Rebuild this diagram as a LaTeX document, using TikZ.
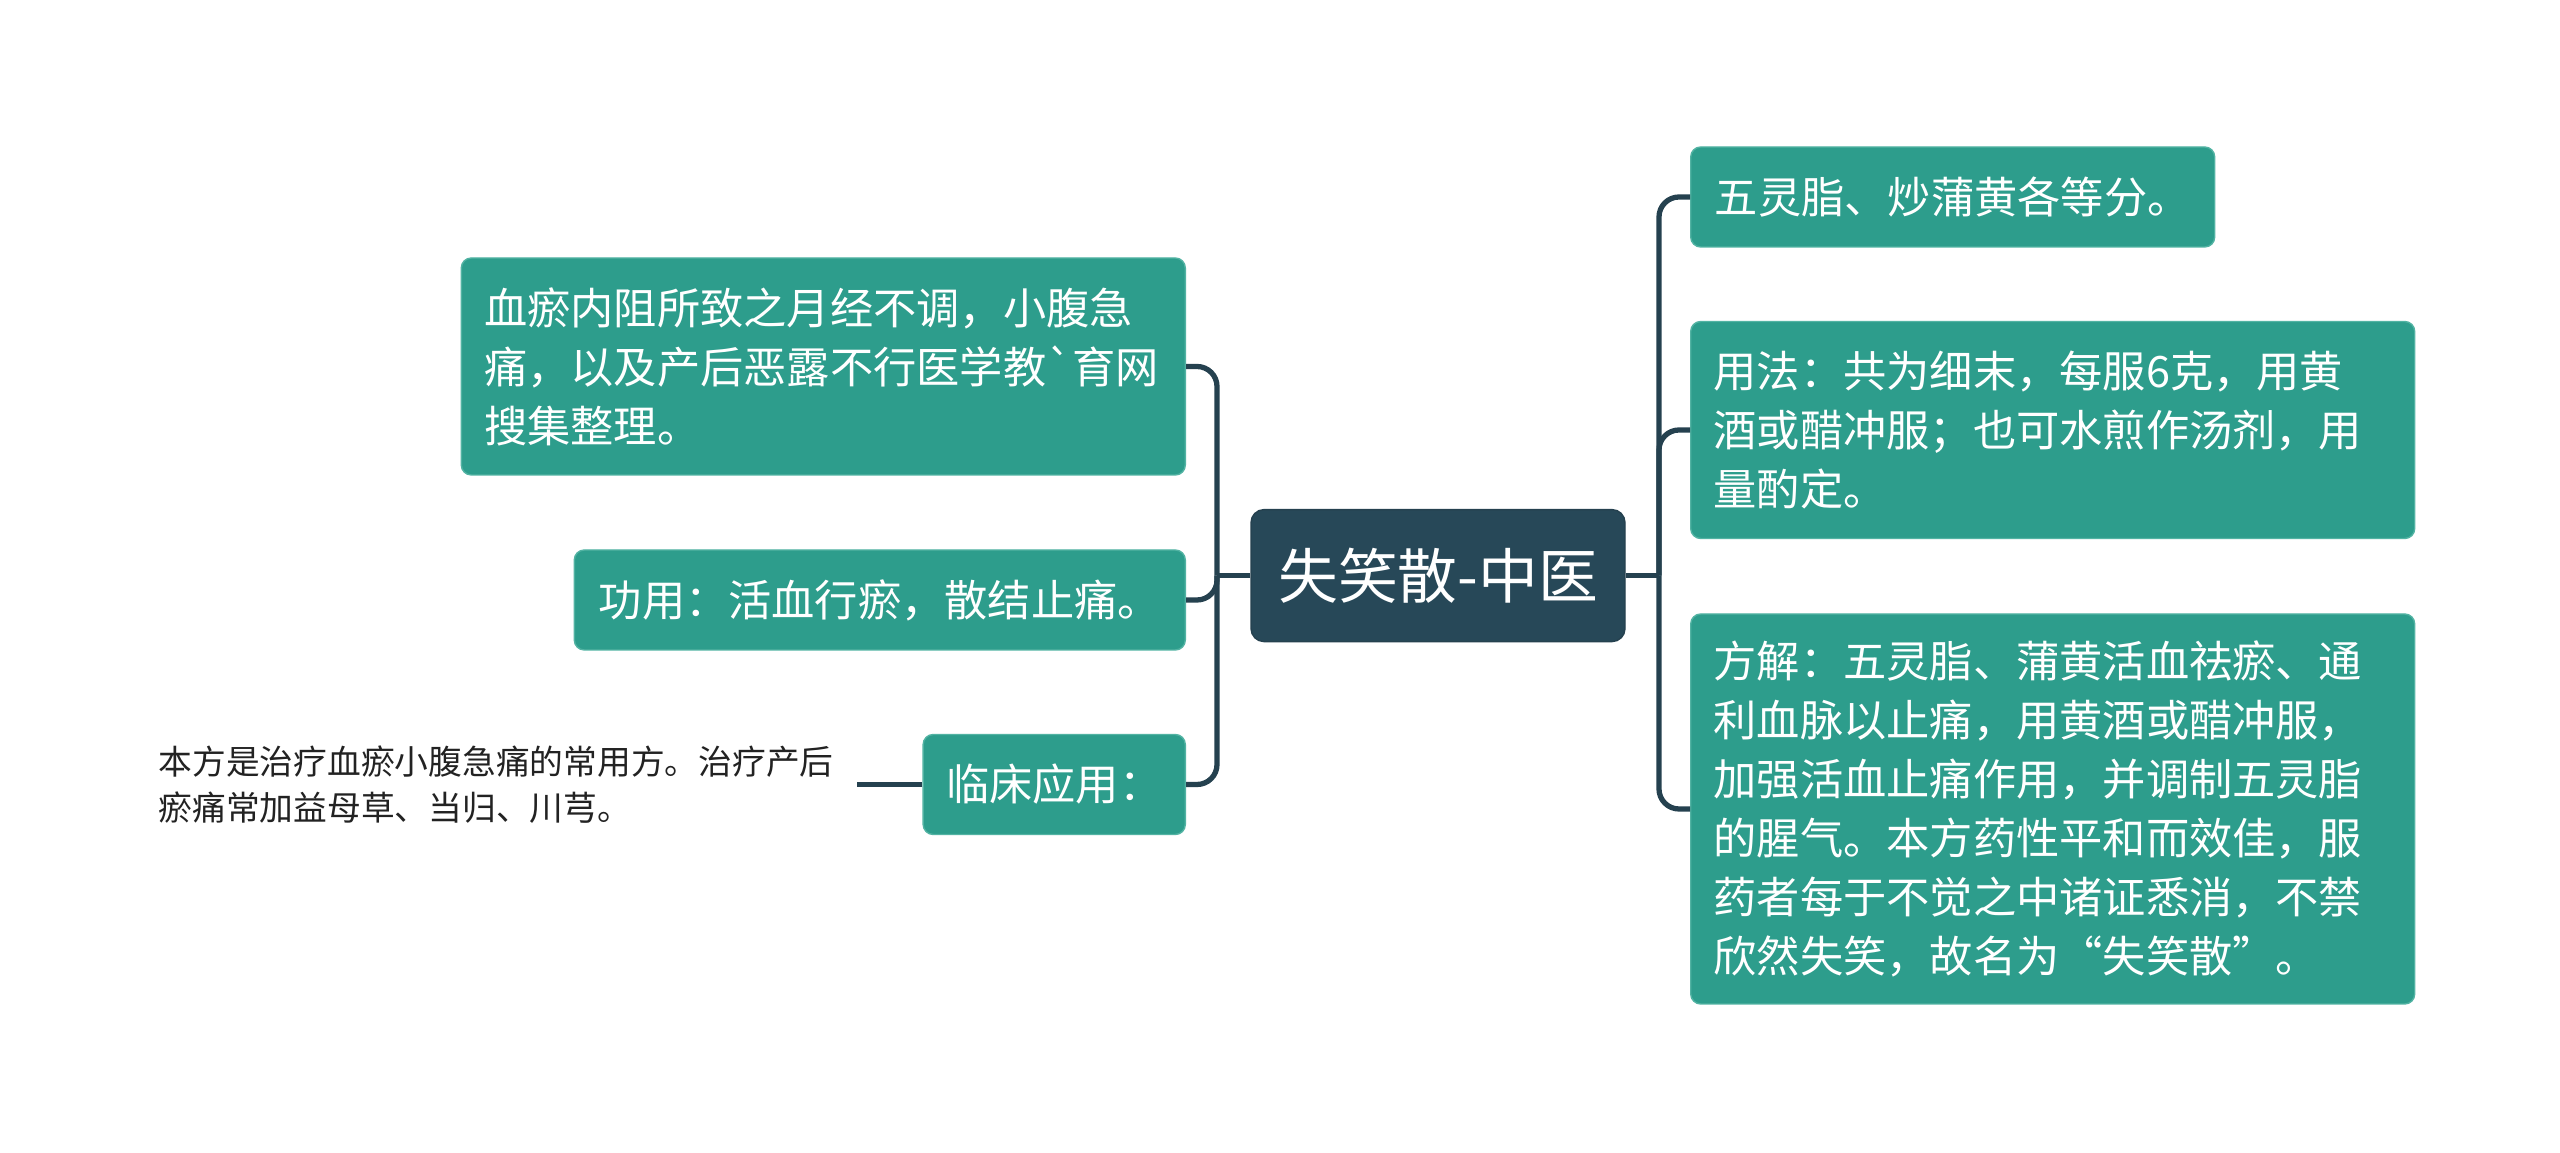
\documentclass[tikz,border=0pt]{standalone}
\usepackage{fontspec}
\newfontfamily\cjk{Noto Sans CJK SC}
\usetikzlibrary{positioning}
\definecolor{boxteal}{HTML}{2D9D8C}
\definecolor{boxedge}{HTML}{52B3A3}
\definecolor{rootblue}{HTML}{274858}
\definecolor{linkblue}{HTML}{25414F}
\definecolor{leaftext}{HTML}{222222}

\begin{document}
\begin{tikzpicture}[
    root/.style={rectangle,rounded corners=1.3mm,fill=rootblue,draw=linkblue,text=white,
      font=\cjk\fontsize{17}{20}\selectfont,minimum width=3.74cm,minimum height=1.32cm},
    topic/.style={rectangle,rounded corners=1mm,fill=boxteal,draw=boxedge,line width=0.4pt,text=white,
      font=\cjk\fontsize{12.3}{16.8}\selectfont,inner xsep=2.3mm,inner ysep=0pt,align=left},
    leaf/.style={text=leaftext,font=\cjk\fontsize{9.6}{13}\selectfont,align=left,inner xsep=1.8mm},
    link/.style={draw=linkblue,line width=1.5pt,rounded corners=2mm}
  ]
  \useasboundingbox (0,0) rectangle (25.6,-11.53);
  % centre
  \node[root] (root) at (14.38,-5.756) {失笑散-中医};
  \coordinate (lspine) at (12.17,-5.756);
  \coordinate (rspine) at (16.59,-5.756);
  % left branches
  \node[topic,text width=6.78cm,minimum height=2.17cm,anchor=east] (zhu) at (11.86,-3.665)
    {血瘀内阻所致之月经不调，小腹急\\痛，以及产后恶露不行医学教`育网\\搜集整理。};
  \node[topic,minimum width=6.11cm,minimum height=1cm,anchor=east] (gong) at (11.86,-6.00)
    {功用：活血行瘀，散结止痛。};
  \node[topic,minimum width=2.6cm,minimum height=1cm,anchor=east] (lin) at (11.86,-7.845)
    {临床应用：};
  \node[leaf,text width=6.8cm,left=0.65cm of lin] (linx)
    {本方是治疗血瘀小腹急痛的常用方。治疗产后\\瘀痛常加益母草、当归、川芎。};
  % right branches
  \node[topic,minimum width=5.24cm,minimum height=1cm,anchor=west] (fen) at (16.90,-1.97)
    {五灵脂、炒蒲黄各等分。};
  \node[topic,text width=6.78cm,minimum height=2.17cm,anchor=west] (yong) at (16.90,-4.30)
    {用法：共为细末，每服6克，用黄\\酒或醋冲服；也可水煎作汤剂，用\\量酌定。};
  \node[topic,text width=6.78cm,minimum height=3.90cm,anchor=west] (jie) at (16.90,-8.09)
    {方解：五灵脂、蒲黄活血祛瘀、通\\利血脉以止痛，用黄酒或醋冲服，\\加强活血止痛作用，并调制五灵脂\\的腥气。本方药性平和而效佳，服\\药者每于不觉之中诸证悉消，不禁\\欣然失笑，故名为“失笑散”。};
  % connectors
  \draw[link] (root.west) -- (lspine);
  \draw[link] (root.east) -- (rspine);
  \foreach \n in {zhu,gong,lin}
  {
    \draw[link] (lspine) |- (\n.east);
  }
  \foreach \n in {fen,yong,jie}
  {
    \draw[link] (rspine) |- (\n.west);
  }
  \draw[link] (lin.west) -- (linx.east);
\end{tikzpicture}
\end{document}
